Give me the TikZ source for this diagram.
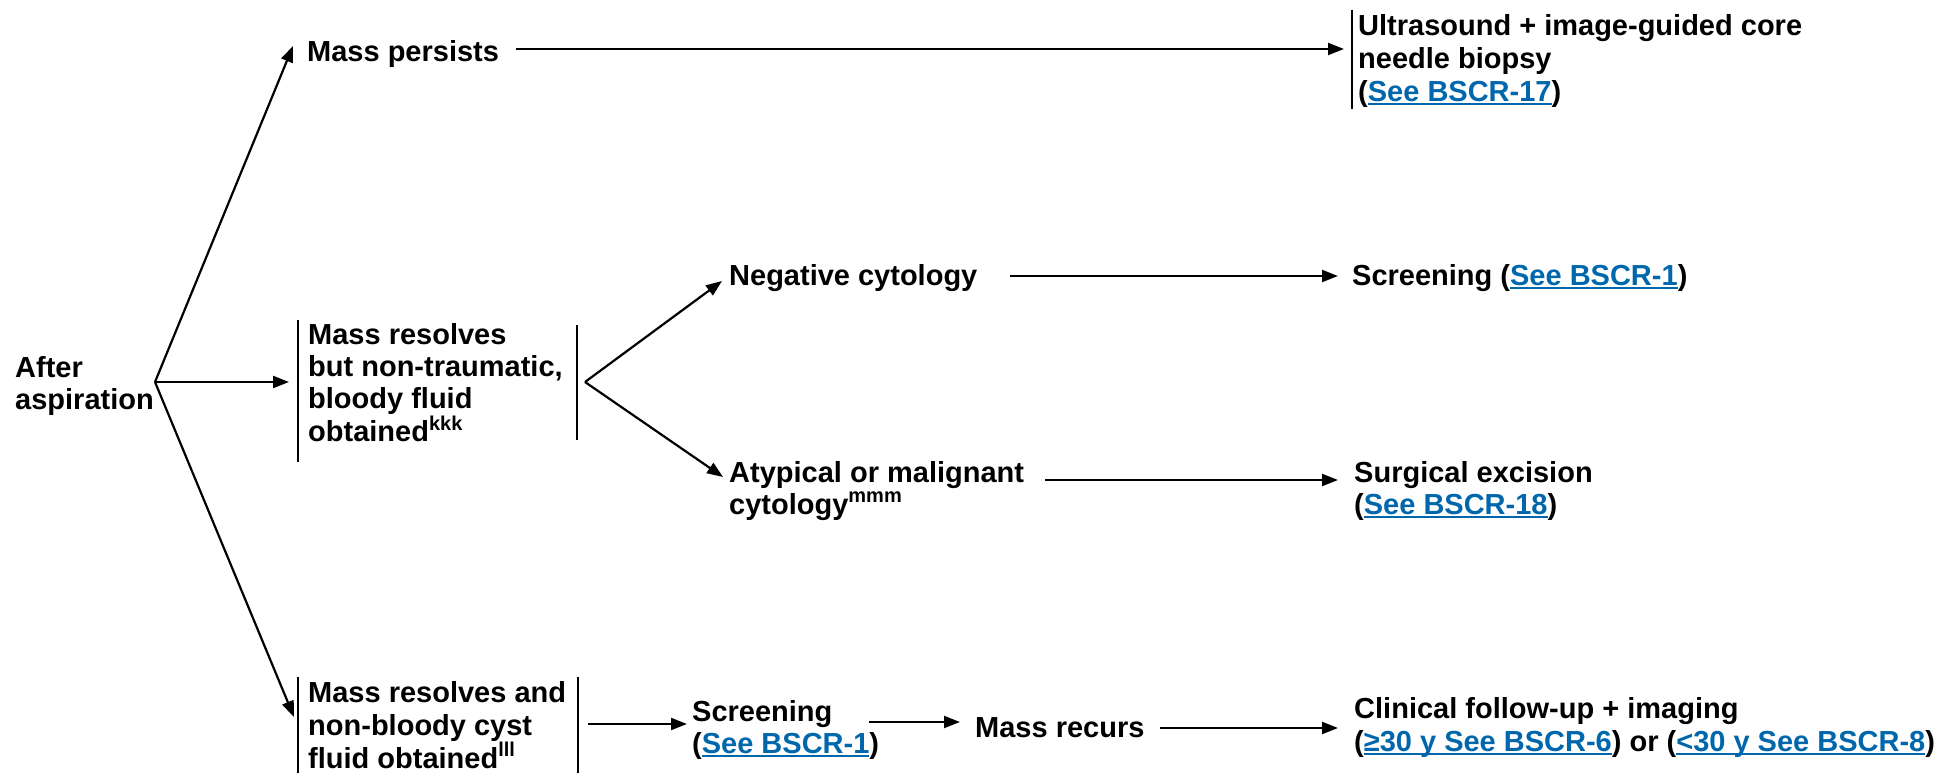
\documentclass[tikz,border=0pt]{standalone}
\usepackage{fontspec}
\setmainfont{Liberation Sans}
\usetikzlibrary{arrows.meta,calc}
\definecolor{linkblue}{RGB}{0,103,172}
\newcommand\lnk[1]{{\color{linkblue}\setbox0\hbox{#1}\rlap{\rule[-3.5pt]{\wd0}{2pt}}\box0}}
\newcommand\spr[1]{\raisebox{0.40em}{\fontsize{20}{20}\selectfont #1}}
\begin{document}
\begin{tikzpicture}[x=1pt,y=-1pt,
  txt/.style={anchor=west,inner sep=0pt,align=left,font=\fontsize{29}{32}\selectfont\bfseries},
  txtw/.style={anchor=west,inner sep=0pt,align=left,font=\fontsize{29}{33}\selectfont\bfseries},
  arr/.style={line width=2.2pt,-{Triangle[length=16pt,width=12pt]}},
  bar/.style={line width=2pt}]
\useasboundingbox (0,0) rectangle (1948,773);

\node[txt] (after) at (15,386) {After\\aspiration};
\node[txt] (persist) at (307,54) {Mass persists};
\node[txtw] (us) at (1358,61) {Ultrasound + image-guided core\\needle biopsy\\(\lnk{See BSCR-17})};
\node[txt] (res1) at (308,383) {Mass resolves\\but non-traumatic,\\bloody fluid\\obtained\spr{kkk}};
\node[txt] (neg) at (729,278) {Negative cytology};
\node[txt] (scr1) at (1352,278) {Screening (\lnk{See BSCR-1})};
\node[txt] (atyp) at (729,491) {Atypical or malignant\\cytology\spr{mmm}};
\node[txt] (surg) at (1354,491) {Surgical excision\\(\lnk{See BSCR-18})};
\node[txtw] (res2) at (308,725) {Mass resolves and\\non-bloody cyst\\fluid obtained\spr{lll}};
\node[txt] (scr2) at (692,730) {Screening\\(\lnk{See BSCR-1})};
\node[txt] (recur) at (975,728) {Mass recurs};
\node[txtw] (clin) at (1354,727) {Clinical follow-up + imaging\\(\lnk{≥30 y See BSCR-6}) or (\lnk{<30 y See BSCR-8})};

% side bars
\draw[bar] (1352,10) -- (1352,109);
\draw[bar] (298,320) -- (298,462);
\draw[bar] (577,325) -- (577,440);
\draw[bar] (298,677) -- (298,773);
\draw[bar] (578,677) -- (578,773);

\coordinate (a0) at (155,382);
\coordinate (b1) at (585,382);

\draw[arr] (a0) -- ($(persist.west)+(-14,-8)$);
\draw[arr] (a0) -- ($(res1.west)+(-19,-1)$);
\draw[arr] (a0) -- ($(res2.west)+(-14,-8)$);
\draw[arr] ($(persist.east)+(17,-5)$) -- ($(us.west)+(-14,-12)$);
\draw[arr] (b1) -- ($(neg.west)+(-7,3)$);
\draw[arr] (b1) -- ($(atyp.west)+(-6,-14)$);
\draw[arr] ($(neg.east)+(32,-2)$) -- ($(scr1.west)+(-14,-2)$);
\draw[arr] ($(atyp.east)+(21,-11)$) -- ($(surg.west)+(-16,-11)$);
\draw[arr] ($(res2.east)+(22,-1)$) -- ($(scr2.west)+(-5,-6)$);
\draw[arr] ($(scr2.east)+(-10,-8)$) -- ($(recur.west)+(-15,-6)$);
\draw[arr] ($(recur.east)+(15,0)$) -- ($(clin.west)+(-16,1)$);
\end{tikzpicture}
\end{document}
